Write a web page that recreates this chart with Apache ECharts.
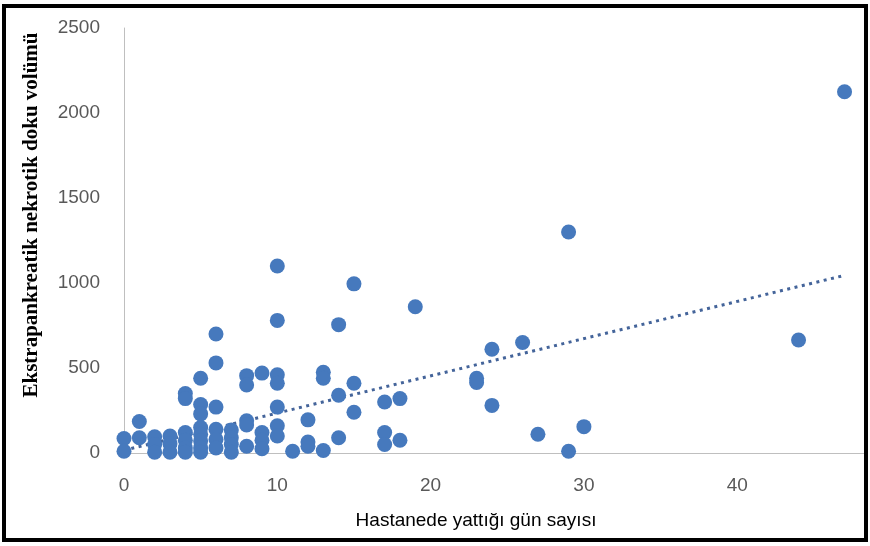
<!DOCTYPE html>
<html>
<head>
<meta charset="utf-8">
<script src="https://cdn.jsdelivr.net/npm/echarts@6/dist/echarts.min.js"></script>
<style>
html,body{margin:0;padding:0;background:#fff;}
#chart{width:870px;height:546px;}
</style>
</head>
<body>
<div id="chart"></div>
<script>
// Data (days in hospital, necrotic tissue volume)
const xDays = [
  0,0,
  1,1,
  2,2,2,
  3,3,3,
  4,4,4,4,4,4,
  5,5,5,5,5,5,5,5,
  6,6,6,6,6,6,
  7,7,7,7,
  8,8,8,8,8,
  9,9,9,9,
  10,10,10,10,10,10,10,
  11,
  12,12,12,
  13,13,13,
  14,14,14,
  15,15,15,
  17,17,17,
  18,18,
  19,
  23,23,
  24,24,
  26,
  27,
  29,29,
  30,
  44,
  47
];
const yVolume = [
  85,10,
  185,90,
  95,50,5,
  100,55,5,
  350,320,120,75,30,5,
  440,285,230,150,110,70,30,5,
  700,530,270,140,80,30,
  135,90,50,5,
  455,400,190,165,40,
  470,120,75,25,
  1100,780,460,410,270,160,100,
  10,
  195,65,40,
  475,440,15,
  755,340,90,
  995,410,240,
  300,120,50,
  320,75,
  860,
  440,415,
  610,280,
  650,
  110,
  1300,10,
  155,
  665,
  2125
];
// Linear trendline end points
const trendX = [0, 47];
const trendY = [16, 1045];

const xTicks = [0, 10, 20, 30, 40];
const yTicks = [0, 500, 1000, 1500, 2000, 2500];
const xVisibleMax = 48.4; // the reference picture is cropped just before 50
const xTitle = 'Hastanede yattığı gün sayısı';
const yTitle = 'Ekstrapankreatik nekrotik doku volümü';

const points = xDays.map((x, i) => [x, yVolume[i]]);
const trend = trendX.map((x, i) => [x, trendY[i]]);

const chart = echarts.init(document.getElementById('chart'), null, {renderer: 'canvas'});
const labelStyle = {color: '#595959', fontFamily: 'Liberation Sans, Arial, sans-serif', fontSize: 19};

chart.setOption({
  backgroundColor: '#ffffff',
  animation: false,
  grid: {left: 124, right: 4, top: 28, bottom: 93, containLabel: false},
  xAxis: {
    type: 'value', min: xTicks[0], max: xVisibleMax, interval: 10,
    axisLine: {show: true, lineStyle: {color: '#bfbfbf', width: 1}},
    axisTick: {show: false},
    splitLine: {show: false},
    axisLabel: Object.assign({margin: 23, showMaxLabel: false,
      formatter: v => (xTicks.indexOf(v) >= 0 ? String(v) : '')}, labelStyle)
  },
  yAxis: {
    type: 'value', min: yTicks[0], max: yTicks[yTicks.length - 1], interval: 500,
    axisLine: {show: true, lineStyle: {color: '#bfbfbf', width: 1}},
    axisTick: {show: false},
    splitLine: {show: false},
    axisLabel: Object.assign({margin: 24, formatter: v => String(v)}, labelStyle)
  },
  series: [
    {
      type: 'line', data: trend, symbol: 'none', z: 1, silent: true,
      lineStyle: {color: '#44649a', width: 3, type: [3, 4.5]}
    },
    {
      type: 'scatter', data: points, symbol: 'circle', symbolSize: 15,
      itemStyle: {color: '#4679bd', opacity: 1}, z: 2, silent: true
    }
  ],
  graphic: [
    {
      type: 'text', x: 32, y: 215, rotation: Math.PI / 2,
      style: {text: yTitle, font: 'bold 21px "Liberation Serif", "Times New Roman", serif',
        fill: '#000', textAlign: 'center', textVerticalAlign: 'middle', align: 'center', verticalAlign: 'middle'}
    },
    {
      type: 'text', x: 476, y: 521,
      style: {text: xTitle, font: '19px "Liberation Sans", Arial, sans-serif',
        fill: '#000', textAlign: 'center', textVerticalAlign: 'middle', align: 'center', verticalAlign: 'middle'}
    },
    {
      type: 'rect', shape: {x: 4, y: 6, width: 862, height: 534},
      style: {fill: 'none', stroke: '#000', lineWidth: 4}, z: 100
    }
  ]
});
</script>
</body>
</html>
